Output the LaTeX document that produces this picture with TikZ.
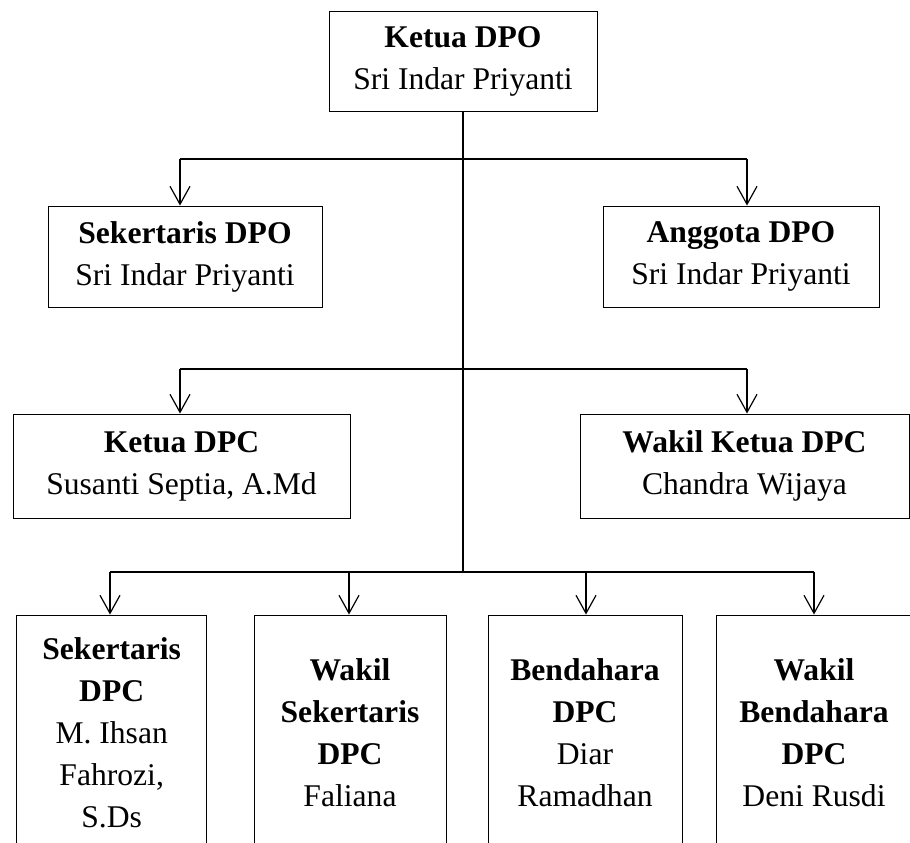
\documentclass[tikz,border=0pt]{standalone}
\usepackage{fontspec}
\setmainfont{Liberation Serif}
\usetikzlibrary{arrows.meta}

\tikzset{
  box/.style={draw, line width=0.5pt, align=center, inner sep=0pt,
    font=\fontsize{15.8}{21}\selectfont},
  bar/.style={line width=1pt},
  down/.style={line width=0.9pt, -{Straight Barb[length=9pt,width=10pt,line width=0.6pt]}}
}

\begin{document}
\begin{tikzpicture}[x=0.5pt,y=-0.5pt]
\useasboundingbox (0,0) rectangle (910,842);

% Pengurus DPO
\node[box, minimum width=134pt, minimum height=50pt] (ketuaDPO) at (463,61) {\textbf{Ketua DPO}\\Sri Indar Priyanti};
\node[box, minimum width=137pt, minimum height=50.5pt] (sekDPO) at (185,256.5) {\textbf{Sekertaris DPO}\\Sri Indar Priyanti};
\node[box, minimum width=138pt, minimum height=50.5pt] (anggotaDPO) at (741,256.5) {\textbf{Anggota DPO}\\Sri Indar Priyanti};

% Pengurus DPC
\node[box, minimum width=168.5pt, minimum height=52pt] (ketuaDPC) at (181.5,466) {\textbf{Ketua DPC}\\Susanti Septia, A.Md};
\node[box, minimum width=164.5pt, minimum height=52pt] (wakilDPC) at (744.5,466) {\textbf{Wakil Ketua DPC}\\Chandra Wijaya};

% Staf DPC
\node[box, minimum width=95pt, minimum height=118pt] (sekDPC) at (111.7,733) {\textbf{Sekertaris}\\\textbf{DPC}\\M. Ihsan\\Fahrozi,\\S.Ds};
\node[box, minimum width=96pt, minimum height=118pt] (wsekDPC) at (350,733) {\textbf{Wakil}\\\textbf{Sekertaris}\\\textbf{DPC}\\Faliana};
\node[box, minimum width=97pt, minimum height=118pt] (bendDPC) at (585,733) {\textbf{Bendahara}\\\textbf{DPC}\\Diar\\Ramadhan};
\node[box, minimum width=98pt, minimum height=118pt] (wbendDPC) at (814,733) {\textbf{Wakil}\\\textbf{Bendahara}\\\textbf{DPC}\\Deni Rusdi};

% Garis
\coordinate (trunk) at (463,572);
\coordinate (b1l) at (180,159);
\coordinate (b1r) at (747,159);
\coordinate (b2l) at (180,369);
\coordinate (b2r) at (747,369);
\coordinate (b3a) at (110,572);
\coordinate (b3b) at (349,572);
\coordinate (b3c) at (586,572);
\coordinate (b3d) at (814,572);

\draw[bar] (ketuaDPO.south) -- (trunk);
\draw[bar] (b1l) -- (b1r);
\draw[bar] (b2l) -- (b2r);
\draw[bar] (b3a) -- (b3d);

\draw[down] (b1l) -- (b1l |- sekDPO.north);
\draw[down] (b1r) -- (b1r |- anggotaDPO.north);
\draw[down] (b2l) -- (b2l |- ketuaDPC.north);
\draw[down] (b2r) -- (b2r |- wakilDPC.north);
\draw[down] (b3a) -- (b3a |- sekDPC.north);
\draw[down] (b3b) -- (b3b |- wsekDPC.north);
\draw[down] (b3c) -- (b3c |- bendDPC.north);
\draw[down] (b3d) -- (b3d |- wbendDPC.north);

\end{tikzpicture}
\end{document}
